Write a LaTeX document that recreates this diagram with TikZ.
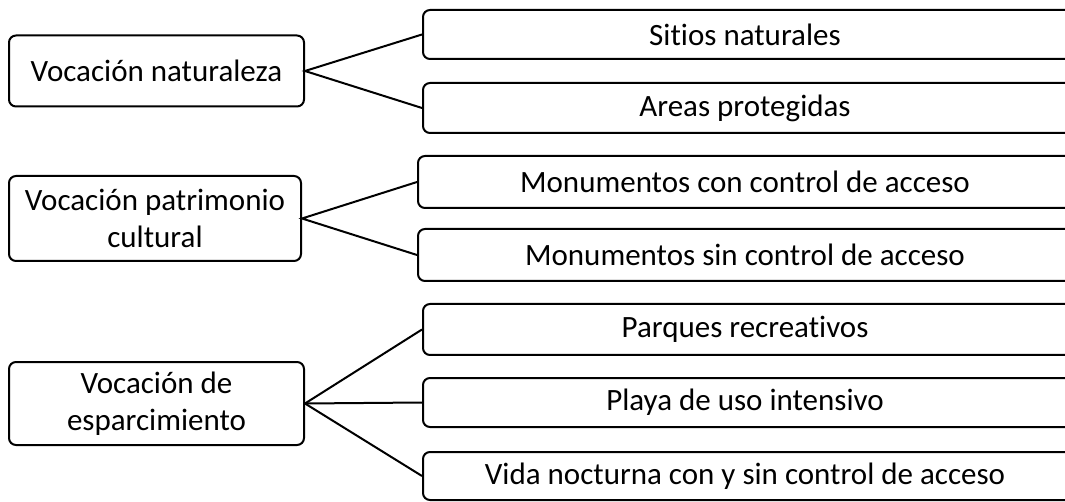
\documentclass[tikz,border=0pt]{standalone}
\usepackage{fontspec}
\setmainfont[Ligatures=NoCommon]{Carlito}
\begin{document}
\begin{tikzpicture}[x=1pt,y=-1pt,
  box/.style={draw=black,line width=2pt,rounded corners=7pt,inner sep=0pt,align=center,
    font=\fontsize{31}{37}\selectfont,anchor=center},
  rbox/.style={box,minimum width=700pt},
  conn/.style={draw=black,line width=2pt}]
\clip (0,0) rectangle (1065,502);
\fill[white] (0,0) rectangle (1065,502);
% left boxes
\node[box,minimum width=295pt,minimum height=71pt] (L1) at (156.5,71) {Vocación naturaleza};
\node[box,minimum width=292pt,minimum height=85pt] (L2) at (155,218.5) {Vocación patrimonio\\cultural};
\node[box,minimum width=295pt,minimum height=83pt] (L3) at (156.5,403.5) {Vocación de\\esparcimiento};
% right boxes (extend past the right edge; text shifted back to centre 745)
\node[rbox,minimum height=49pt] (R1) at (773,34.5) {\hspace*{-56pt}Sitios naturales};
\node[rbox,minimum height=50pt] (R2) at (773,108) {\hspace*{-56pt}Areas protegidas};
\node[rbox,minimum height=52pt] (R3) at (768,182) {\hspace*{-46pt}Monumentos con control de acceso};
\node[rbox,minimum height=52pt] (R4) at (768,255) {\hspace*{-46pt}Monumentos sin control de acceso};
\node[rbox,minimum height=51pt] (R5) at (773,329.5) {\hspace*{-56pt}Parques recreativos};
\node[rbox,minimum height=49pt] (R6) at (773,402.5) {\hspace*{-56pt}Playa de uso intensivo};
\node[rbox,minimum height=48pt] (R7) at (773,476) {\hspace*{-56pt}Vida nocturna con y sin control de acceso};
% connectors
\draw[conn] (R1.west) -- (L1.east) -- (R2.west);
\draw[conn] (R3.west) -- (L2.east) -- (R4.west);
\draw[conn] (R5.west) -- (L3.east) -- (R7.west);
\draw[conn] (L3.east) -- (R6.west);
\end{tikzpicture}
\end{document}
